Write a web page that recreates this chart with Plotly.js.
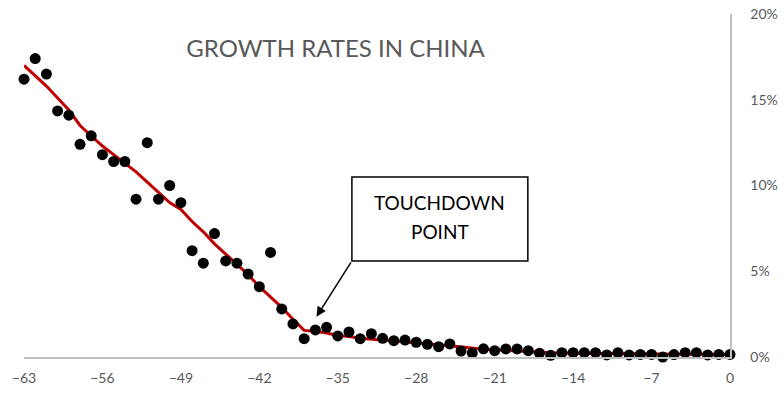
<!DOCTYPE html>
<html>
<head>
<meta charset="utf-8">
<script src="https://cdn.plot.ly/plotly-3.0.1.min.js"></script>
<style>html,body{margin:0;padding:0;background:#fff}#chart{width:784px;height:396px}</style>
</head>
<body>
<div id="chart"></div>
<script>
// Periods (x) and growth rates (%)
const periods = [-63,-62,-61,-60,-59,-58,-57,-56,-55,-54,-53,-52,-51,-50,-49,-48,-47,-46,-45,-44,-43,-42,-41,-40,-39,-38,-37,-36,-35,-34,-33,-32,-31,-30,-29,-28,-27,-26,-25,-24,-23,-22,-21,-20,-19,-18,-17,-16,-15,-14,-13,-12,-11,-10,-9,-8,-7,-6,-5,-4,-3,-2,-1,0];
const growth = [16.2,17.4,16.5,14.35,14.1,12.4,12.9,11.8,11.4,11.4,9.2,12.5,9.2,10.0,9.0,6.2,5.47,7.2,5.6,5.47,4.84,4.1,6.1,2.8,1.93,1.07,1.58,1.73,1.23,1.46,1.07,1.36,1.09,0.95,0.99,0.86,0.74,0.60,0.76,0.35,0.23,0.48,0.37,0.47,0.47,0.37,0.22,0.1,0.25,0.25,0.25,0.25,0.12,0.25,0.12,0.15,0.15,0.0,0.14,0.25,0.25,0.12,0.15,0.15];
const trend = [17.0,16.4,15.8,15.1,14.4,13.5,12.9,12.3,11.8,11.3,10.8,10.2,9.6,9.0,8.6,7.9,7.3,6.6,6.0,5.4,4.8,4.1,3.5,2.9,2.2,1.55,1.5,1.4,1.25,1.2,1.1,1.05,1.0,0.95,0.9,0.85,0.8,0.72,0.65,0.57,0.5,0.45,0.42,0.38,0.35,0.3,0.28,0.25,0.24,0.23,0.22,0.21,0.2,0.2,0.19,0.18,0.18,0.17,0.17,0.16,0.16,0.15,0.15,0.15];
const xTicks = [-63,-56,-49,-42,-35,-28,-21,-14,-7,0];
const yTicks = [0,5,10,15,20];
const yTickText = ['0%','5%','10%','15%','20%'];
const titleText = 'GROWTH RATES IN CHINA';
const noteLine1 = 'TOUCHDOWN';
const noteLine2 = 'POINT';

const font = 'Lato, "Open Sans", "Liberation Sans", sans-serif';
const gray = '#595959';

const traces = [
  {x: periods, y: trend, type: 'scatter', mode: 'lines',
   line: {color: '#C00000', width: 3}, hoverinfo: 'skip', cliponaxis: false},
  {x: periods, y: growth, type: 'scatter', mode: 'markers',
   marker: {color: '#000000', size: 11}, cliponaxis: false}
];

const layout = {
  width: 784, height: 396,
  margin: {l: 24, r: 54, t: 14, b: 39},
  paper_bgcolor: '#ffffff', plot_bgcolor: '#ffffff',
  showlegend: false,
  font: {family: font, color: gray, size: 14},
  title: {text: titleText, x: 0.428, xanchor: 'center', y: 0.877, yanchor: 'middle',
          font: {family: font, size: 24, color: gray}},
  xaxis: {range: [-63, 0], tickvals: xTicks, showgrid: false, zeroline: false,
          showline: true, linecolor: '#BFBFBF', linewidth: 1.5, ticks: '',
          ticklabelstandoff: 8, tickfont: {family: font, size: 14, color: gray}},
  yaxis: {range: [0, 20], side: 'right', tickvals: yTicks, ticktext: yTickText,
          showgrid: false, zeroline: false, showline: true, linecolor: '#BFBFBF',
          linewidth: 1.5, ticks: '', ticklabelstandoff: 16,
          tickfont: {family: font, size: 14, color: gray}},
  shapes: [
    {type: 'rect', xref: 'x', yref: 'y', x0: -33.74, x1: -18.04, y0: 5.6, y1: 10.5,
     line: {color: '#000000', width: 1.5}, fillcolor: '#ffffff', layer: 'above'}
  ],
  annotations: [
    {xref: 'x', yref: 'y', x: -25.9, y: 8.98, text: noteLine1, showarrow: false,
     font: {family: font, size: 19, color: '#000000'}, align: 'center'},
    {xref: 'x', yref: 'y', x: -25.9, y: 7.29, text: noteLine2, showarrow: false,
     font: {family: font, size: 19, color: '#000000'}, align: 'center'},
    {xref: 'x', yref: 'y', x: -36.9, y: 2.35, axref: 'x', ayref: 'y', ax: -33.74, ay: 5.6,
     text: '', showarrow: true, arrowhead: 2, arrowsize: 1.3, arrowwidth: 1.5, arrowcolor: '#000000'}
  ]
};

Plotly.newPlot('chart', traces, layout, {displayModeBar: false, staticPlot: true});
</script>
</body>
</html>
